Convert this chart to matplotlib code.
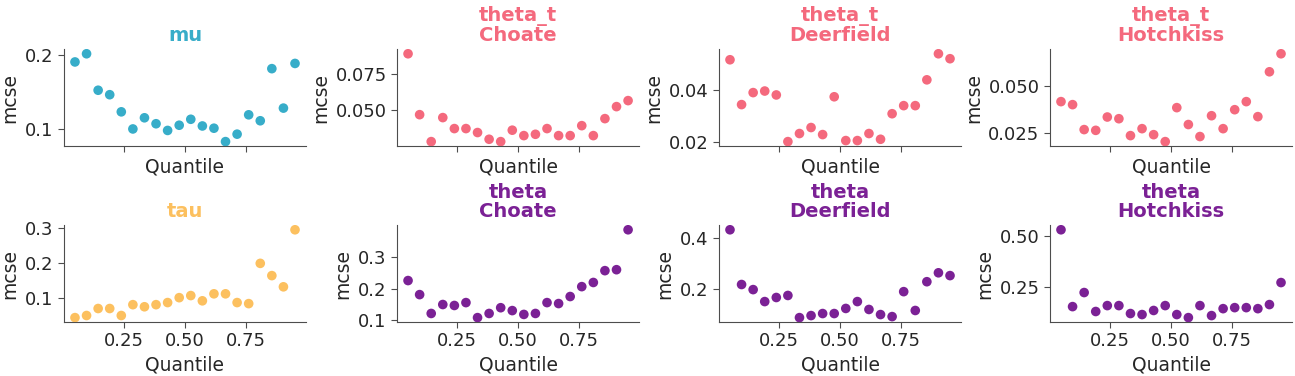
import numpy as np
import matplotlib
matplotlib.use("Agg")
import matplotlib.pyplot as plt

plt.rcParams['font.family'] = ['DejaVu Sans']

# quantiles (20 points, 0.05 .. 0.95)
quantiles = np.linspace(0.05, 0.95, 20)

titles = ["mu", "theta_t\nChoate", "theta_t\nDeerfield", "theta_t\nHotchkiss",
          "tau", "theta\nChoate", "theta\nDeerfield", "theta\nHotchkiss"]

colors = ["#37adc9", "#f4697d", "#f4697d", "#f4697d",
          "#fcc05f", "#7b2195", "#7b2195", "#7b2195"]

mcse_mu = [0.190, 0.201, 0.152, 0.146, 0.123, 0.100, 0.115, 0.107, 0.098, 0.105,
           0.113, 0.104, 0.101, 0.083, 0.093, 0.119, 0.111, 0.181, 0.128, 0.188]
mcse_theta_t_choate = [0.0886, 0.0470, 0.0286, 0.0450, 0.0375, 0.0375, 0.0348, 0.0302, 0.0286, 0.0364,
                       0.0327, 0.0336, 0.0375, 0.0327, 0.0327, 0.0395, 0.0327, 0.0443, 0.0525, 0.0566]
mcse_theta_t_deerfield = [0.0515, 0.0343, 0.0389, 0.0395, 0.0380, 0.0201, 0.0232, 0.0255, 0.0228, 0.0373,
                          0.0205, 0.0205, 0.0232, 0.0210, 0.0308, 0.0339, 0.0339, 0.0438, 0.0538, 0.0519]
mcse_theta_t_hotchkiss = [0.0415, 0.0399, 0.0266, 0.0262, 0.0333, 0.0324, 0.0234, 0.0271, 0.0239, 0.0202,
                          0.0383, 0.0293, 0.0229, 0.0340, 0.0271, 0.0372, 0.0415, 0.0335, 0.0574, 0.0670]
mcse_tau = [0.043, 0.049, 0.069, 0.069, 0.049, 0.080, 0.074, 0.080, 0.086, 0.100,
            0.106, 0.091, 0.111, 0.111, 0.086, 0.083, 0.198, 0.163, 0.131, 0.294]
mcse_theta_choate = [0.225, 0.181, 0.122, 0.150, 0.147, 0.156, 0.109, 0.122, 0.140, 0.131,
                     0.119, 0.122, 0.156, 0.153, 0.175, 0.206, 0.219, 0.256, 0.259, 0.384]
mcse_theta_deerfield = [0.431, 0.216, 0.196, 0.149, 0.165, 0.173, 0.086, 0.094, 0.102, 0.102,
                        0.122, 0.149, 0.118, 0.098, 0.090, 0.188, 0.114, 0.227, 0.262, 0.251]
mcse_theta_hotchkiss = [0.529, 0.152, 0.221, 0.128, 0.157, 0.157, 0.118, 0.113, 0.133, 0.157,
                        0.113, 0.098, 0.157, 0.108, 0.142, 0.147, 0.147, 0.142, 0.162, 0.270]

series = [mcse_mu, mcse_theta_t_choate, mcse_theta_t_deerfield, mcse_theta_t_hotchkiss,
          mcse_tau, mcse_theta_choate, mcse_theta_deerfield, mcse_theta_hotchkiss]

yticks = [[0.1, 0.2], [0.050, 0.075], [0.02, 0.04], [0.025, 0.050],
          [0.1, 0.2, 0.3], [0.1, 0.2, 0.3], [0.2, 0.4], [0.25, 0.50]]
yticklabels = [["0.1", "0.2"], ["0.050", "0.075"], ["0.02", "0.04"], ["0.025", "0.050"],
               ["0.1", "0.2", "0.3"], ["0.1", "0.2", "0.3"], ["0.2", "0.4"], ["0.25", "0.50"]]
xticks = [0.25, 0.50, 0.75]
xticklabels = ["0.25", "0.50", "0.75"]

fig = plt.figure(figsize=(12.95, 3.76), dpi=100)

lefts = [0.0494, 0.3066, 0.5552, 0.8108]
bottoms = [0.6117, 0.1436]
w, h = 0.1869, 0.257

text_col = "#262626"
spine_col = "#4d4d4d"

for i, (vals, title, col) in enumerate(zip(series, titles, colors)):
    row, c = divmod(i, 4)
    ax = fig.add_axes([lefts[c], bottoms[row], w, h])
    ax.scatter(quantiles, vals, s=48, color=col, edgecolors="none", zorder=3)
    ax.set_title(title, color=col, fontsize=14, fontweight="bold", pad=6, linespacing=1.0)
    ax.set_xlabel("Quantile", fontsize=13.5, color=text_col)
    ax.set_ylabel("mcse", fontsize=13.5, color=text_col)
    ax.set_yticks(yticks[i])
    ax.set_yticklabels(yticklabels[i])
    ax.set_xticks(xticks)
    ax.set_xticklabels(xticklabels)
    ax.tick_params(labelsize=13, colors=spine_col, labelcolor=text_col, length=4)
    if row == 0:
        # 上排共享x轴，不显示刻度标签
        ax.tick_params(labelbottom=False)
    for s in ["top", "right"]:
        ax.spines[s].set_visible(False)
    for s in ["left", "bottom"]:
        ax.spines[s].set_color(spine_col)
    ax.margins(x=0.05, y=0.05)

fig.savefig("out.png", dpi=100)
